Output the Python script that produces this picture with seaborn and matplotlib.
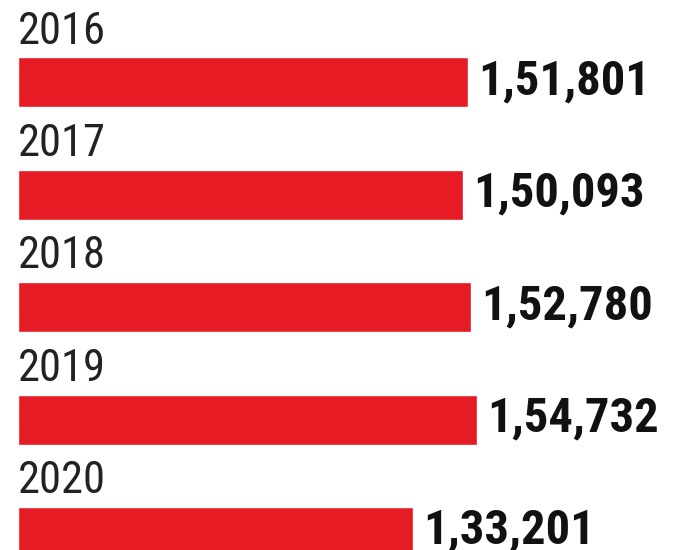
import matplotlib
matplotlib.use("Agg")
import matplotlib.pyplot as plt
from matplotlib import font_manager
import seaborn as sns
import pandas as pd

# Data
years = ["2016", "2017", "2018", "2019", "2020"]
values = [151801, 150093, 152780, 154732, 133201]
labels = ["1,51,801", "1,50,093", "1,52,780", "1,54,732", "1,33,201"]

BAR_RED = "#e61b23"


def narrow_font():
    """Pick a condensed family if one is installed."""
    names = {f.name: f.stretch for f in font_manager.fontManager.ttflist}
    for name in ["Liberation Sans Narrow", "DejaVu Sans Condensed",
                 "Roboto Condensed", "Open Sans Condensed"]:
        if name in names:
            return name, "normal"
    for f in font_manager.fontManager.ttflist:
        if f.name == "DejaVu Sans" and f.stretch == "condensed":
            return "DejaVu Sans", "condensed"
    return "Roboto", "normal"


def main():
    sns.set_theme(style="white")
    fam, stretch = narrow_font()
    plt.rcParams["font.family"] = [fam, "DejaVu Sans"]

    df = pd.DataFrame({"year": years, "value": values})

    fig = plt.figure(figsize=(6.76, 5.5), dpi=100)
    ax = fig.add_axes([0, 0, 1, 1])
    sns.barplot(data=df, x="value", y="year", orient="h", color=BAR_RED,
                width=0.445, saturation=1, ax=ax)

    # scale so that 0 sits ~18px from the left edge
    px = 450 / 151801
    ax.set_xlim(-18 / px, (676 - 18) / px)
    ax.set_ylim(4.16, -0.734)

    for i, (yr, v, lab) in enumerate(zip(years, values, labels)):
        ax.text(0, i - 0.345, yr, fontsize=32, color="#222222",
                stretch=stretch, va="baseline", ha="left")
        ax.text(v + 10 / px, i - 0.01, lab, fontsize=35, fontweight="bold",
                stretch=stretch, color="#111111", va="center", ha="left")

    ax.axis("off")
    fig.savefig("out.png", dpi=100, facecolor="white")
    plt.close(fig)


if __name__ == "__main__":
    main()
